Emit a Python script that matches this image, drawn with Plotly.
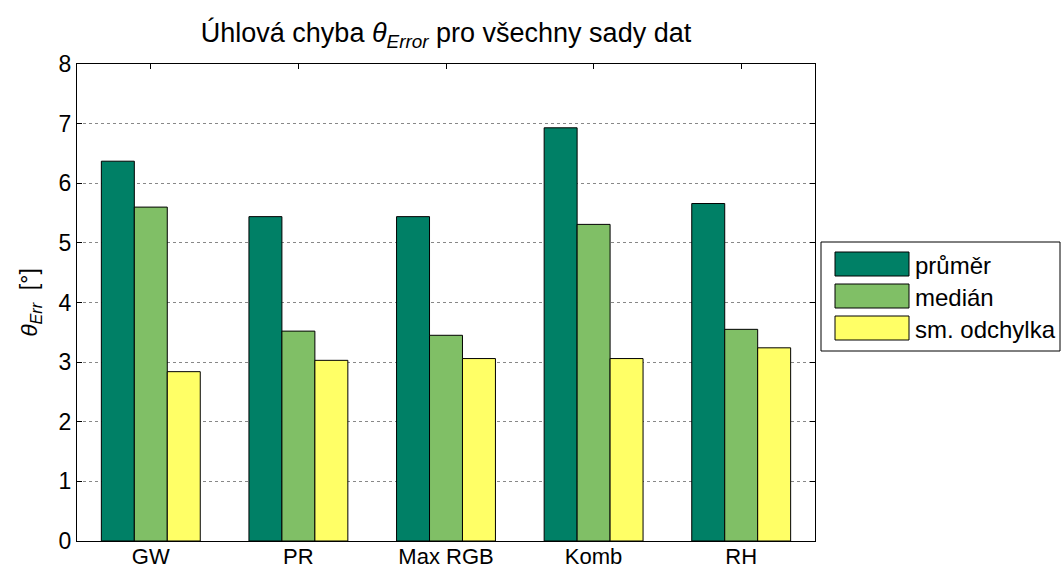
import plotly.graph_objects as go

# Angular error statistics per algorithm
categories = ["GW", "PR", "Max RGB", "Komb", "RH"]
prumer = [6.37, 5.44, 5.44, 6.93, 5.66]
median = [5.60, 3.52, 3.45, 5.31, 3.55]
sm_odchylka = [2.84, 3.03, 3.06, 3.06, 3.24]
series_names = ["průměr", "medián", "sm. odchylka"]
series_colors = ["#008066", "#80BF66", "#FFFF66"]
y_ticks = [0, 1, 2, 3, 4, 5, 6, 7, 8]

FONT = "Liberation Sans, Arial, sans-serif"

# plot area in pixels
L, R, T, B = 77, 815, 64, 541

fig = go.Figure()
for name, vals, col in zip(series_names, [prumer, median, sm_odchylka], series_colors):
    fig.add_trace(go.Bar(
        x=categories, y=vals, name=name,
        marker=dict(color=col, line=dict(color="black", width=1)),
        showlegend=False,
    ))

# hidden trace that drives the mirrored top axis ticks
fig.add_trace(go.Scatter(x=categories, y=[None] * len(categories), xaxis="x2",
                         showlegend=False, hoverinfo="skip"))

def fx(p):
    return (p - L) / (R - L)

def fy(p):
    return (B - p) / (B - T)

# boxed legend with wide swatches
shapes = [dict(type="rect", xref="paper", yref="paper",
               x0=fx(821), x1=fx(1060), y0=fy(351), y1=fy(242),
               line=dict(color="black", width=1), fillcolor="white")]
annotations = []
for i, (name, col) in enumerate(zip(series_names, series_colors)):
    cy = 264 + i * 32
    shapes.append(dict(type="rect", xref="paper", yref="paper",
                       x0=fx(835), x1=fx(909), y0=fy(cy + 12), y1=fy(cy - 12),
                       line=dict(color="black", width=1), fillcolor=col))
    annotations.append(dict(text=name, xref="paper", yref="paper",
                            x=fx(913), y=fy(cy + 1),
                            xanchor="left", yanchor="middle", showarrow=False,
                            font=dict(family=FONT, size=24, color="black")))

fig.update_layout(
    width=1062, height=571,
    margin=dict(l=L, r=1062 - R, t=T, b=571 - B),
    paper_bgcolor="white", plot_bgcolor="white",
    font=dict(family=FONT, size=23, color="black"),
    title=dict(text="Úhlová chyba <i>θ</i><sub><i>Error</i></sub> pro všechny sady dat",
               x=(L + R) / 2 / 1062, xanchor="center", y=1 - 33 / 571, yanchor="middle",
               font=dict(family=FONT, size=27, color="black")),
    barmode="group", bargap=0.33, bargroupgap=0,
    xaxis=dict(type="category", range=[-0.5, 4.5], showline=True, linecolor="black",
               linewidth=1, mirror=True, ticks="", ticklen=0, showgrid=False,
               tickfont=dict(size=22), ticklabelstandoff=-4, automargin=False),
    xaxis2=dict(type="category", range=[-0.5, 4.5], overlaying="x", side="top",
                ticks="inside", ticklen=5, tickcolor="black", showticklabels=False,
                showgrid=False, showline=False, matches="x", automargin=False),
    yaxis=dict(range=[0, 8], tickvals=y_ticks, showline=True, linecolor="black",
               linewidth=1, mirror="ticks", ticks="inside", ticklen=5,
               tickcolor="black", showgrid=True, gridcolor="#888888",
               griddash="dot", gridwidth=1, zeroline=False,
               tickfont=dict(size=23), automargin=False,
               title=dict(text="<i>θ</i><sub><i>Err</i></sub>  [°]", standoff=14,
                          font=dict(size=23))),
    shapes=shapes,
    annotations=annotations,
)

fig.write_html("out.html")
